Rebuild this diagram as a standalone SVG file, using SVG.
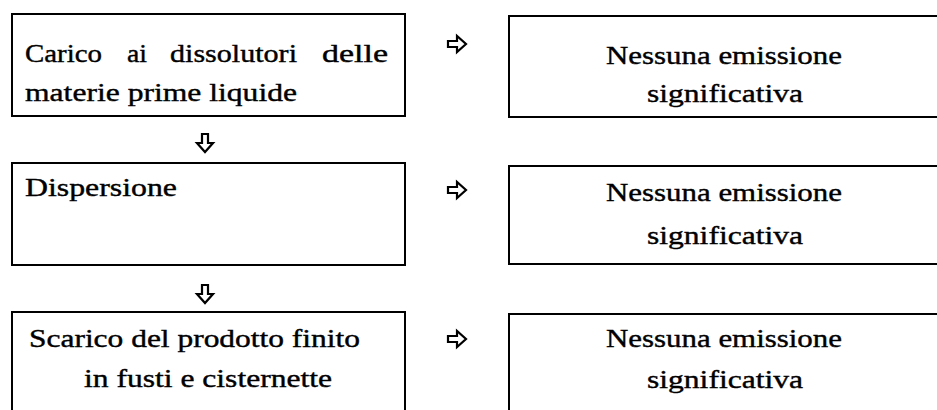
<svg xmlns="http://www.w3.org/2000/svg" width="937" height="410" viewBox="0 0 937 410">
<style>
.box{fill:#fff;stroke:#000;stroke-width:2}
.t{font-family:"Liberation Serif","DejaVu Serif",serif;font-size:26px;fill:#000;stroke:#000;stroke-width:0.4}
.arr{fill:#fff;stroke:#000;stroke-width:2.2;stroke-linejoin:miter}
</style>
<rect width="937" height="410" fill="#fff"/>
<g id="step1">
<rect class="box" x="12" y="14" width="393" height="102"/>
<text class="t" y="62"><tspan x="25" textLength="77" lengthAdjust="spacingAndGlyphs">Carico</tspan><tspan x="127" textLength="20" lengthAdjust="spacingAndGlyphs">ai</tspan><tspan x="170" textLength="127" lengthAdjust="spacingAndGlyphs">dissolutori</tspan><tspan x="322" textLength="66" lengthAdjust="spacingAndGlyphs">delle</tspan></text>
<text class="t" x="25" y="101" textLength="272" lengthAdjust="spacingAndGlyphs">materie prime liquide</text>
</g>
<g id="em1">
<rect class="box" x="509" y="16" width="440" height="101"/>
<text class="t" x="606" y="64" textLength="236" lengthAdjust="spacingAndGlyphs">Nessuna emissione</text>
<text class="t" x="647" y="102" textLength="156" lengthAdjust="spacingAndGlyphs">significativa</text>
</g>
<g id="step2">
<rect class="box" x="12" y="163" width="393" height="102"/>
<text class="t" x="25" y="196" textLength="152" lengthAdjust="spacingAndGlyphs">Dispersione</text>
</g>
<g id="em2">
<rect class="box" x="509" y="166" width="440" height="98"/>
<text class="t" x="606" y="201" textLength="236" lengthAdjust="spacingAndGlyphs">Nessuna emissione</text>
<text class="t" x="647" y="244" textLength="156" lengthAdjust="spacingAndGlyphs">significativa</text>
</g>
<g id="step3">
<rect class="box" x="12" y="312" width="393" height="110"/>
<text class="t" x="29" y="347" textLength="331" lengthAdjust="spacingAndGlyphs">Scarico del prodotto finito</text>
<text class="t" x="84" y="387" textLength="248" lengthAdjust="spacingAndGlyphs">in fusti e cisternette</text>
</g>
<g id="em3">
<rect class="box" x="509" y="314" width="440" height="110"/>
<text class="t" x="606" y="347" textLength="236" lengthAdjust="spacingAndGlyphs">Nessuna emissione</text>
<text class="t" x="647" y="388" textLength="156" lengthAdjust="spacingAndGlyphs">significativa</text>
</g>
<g id="connectors">
<path class="arr" d="M448,41 h9 v-5 l9,8 l-9,8 v-5 h-9 z"/>
<path class="arr" d="M448,187 h9 v-5 l9,8 l-9,8 v-5 h-9 z"/>
<path class="arr" d="M448,336 h9 v-5 l9,8 l-9,8 v-5 h-9 z"/>
<path class="arr" d="M202,134 v9 h-5 l8,9 l8,-9 h-5 v-9 z"/>
<path class="arr" d="M202,285 v9 h-5 l8,9 l8,-9 h-5 v-9 z"/>
</g>
</svg>
